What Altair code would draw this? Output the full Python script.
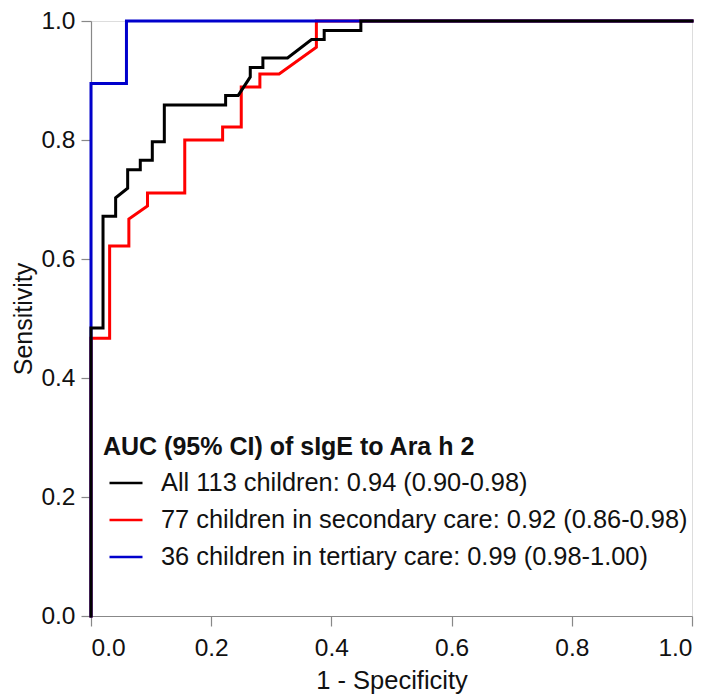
import altair as alt
import pandas as pd

# Series names (legend order)
series_names = [
    "All 113 children: 0.94 (0.90-0.98)",
    "77 children in secondary care: 0.92 (0.86-0.98)",
    "36 children in tertiary care: 0.99 (0.98-1.00)",
]
series_colors = ["#000000", "#ff0000", "#0000cc"]

# All 113 children (black)
all_fpr = [0, 0, 0.020, 0.020, 0.041, 0.041, 0.061, 0.061, 0.082, 0.082, 0.102, 0.102,
           0.122, 0.122, 0.224, 0.224, 0.245, 0.265, 0.265, 0.286, 0.286, 0.327, 0.367,
           0.388, 0.388, 0.449, 0.449, 1.0]
all_tpr = [0, 0.484, 0.484, 0.672, 0.672, 0.703, 0.719, 0.750, 0.750, 0.766, 0.766, 0.797,
           0.797, 0.859, 0.859, 0.875, 0.875, 0.906, 0.922, 0.922, 0.938, 0.938, 0.969,
           0.969, 0.984, 0.984, 1.0, 1.0]

# 77 children in secondary care (red)
sec_fpr = [0, 0, 0.031, 0.031, 0.063, 0.063, 0.094, 0.094, 0.156, 0.156, 0.219, 0.219,
           0.250, 0.250, 0.281, 0.281, 0.313, 0.375, 0.375, 1.0]
sec_tpr = [0, 0.467, 0.467, 0.622, 0.622, 0.667, 0.689, 0.711, 0.711, 0.800, 0.800, 0.822,
           0.822, 0.889, 0.889, 0.911, 0.911, 0.956, 1.0, 1.0]

# 36 children in tertiary care (blue)
ter_fpr = [0, 0, 0.059, 0.059, 1.0]
ter_tpr = [0, 0.895, 0.895, 1.0, 1.0]

x_ticks = [0.0, 0.2, 0.4, 0.6, 0.8, 1.0]
y_ticks = [0.0, 0.2, 0.4, 0.6, 0.8, 1.0]


def frame(name, fpr, tpr):
    return pd.DataFrame({"series": name, "fpr": fpr, "tpr": tpr, "i": list(range(len(fpr)))})


df_all = frame(series_names[0], all_fpr, all_tpr)
df_sec = frame(series_names[1], sec_fpr, sec_tpr)
df_ter = frame(series_names[2], ter_fpr, ter_tpr)

FONT = "Liberation Sans"

x_enc = alt.X("fpr:Q", scale=alt.Scale(domain=[0, 1], nice=False),
              axis=alt.Axis(title="1 - Specificity", values=x_ticks, format=".1f",
                            grid=False, tickSize=10, labelPadding=10, titlePadding=9,
                            domainColor="#888888", tickColor="#888888", tickWidth=1.2,
                            domainWidth=1.2, labelFontSize=24.5, titleFontSize=25.5,
                            labelColor="#111111", titleColor="#111111",
                            titleFontWeight="normal", labelFont=FONT, titleFont=FONT))
y_enc = alt.Y("tpr:Q", scale=alt.Scale(domain=[0, 1], nice=False),
              axis=alt.Axis(title="Sensitivity", values=y_ticks, format=".1f",
                            grid=False, tickSize=10, labelPadding=6, titlePadding=4,
                            domainColor="#888888", tickColor="#888888", tickWidth=1.2,
                            domainWidth=1.2, labelFontSize=24.5, titleFontSize=25,
                            labelColor="#111111", titleColor="#111111",
                            titleFontWeight="normal", labelFont=FONT, titleFont=FONT))

color_enc = alt.Color(
    "series:N",
    scale=alt.Scale(domain=series_names, range=series_colors),
    legend=alt.Legend(
        orient="none", legendX=12, legendY=414, padding=0,
        title="AUC (95% CI) of sIgE to Ara h 2",
        titleFontSize=25, titleFontWeight="bold", titleFont=FONT, titleColor="#111111",
        titleLimit=700, titlePadding=5,
        labelFontSize=25.4, labelFont=FONT, labelColor="#111111", labelLimit=700,
        symbolType="stroke", symbolSize=1089, symbolStrokeWidth=2.7,
        symbolOffset=5, labelOffset=17, rowPadding=5,
    ),
)


def layer(df):
    return alt.Chart(df).mark_line(strokeWidth=3, strokeJoin="miter", strokeCap="square").encode(
        x=x_enc, y=y_enc, color=color_enc, order=alt.Order("i:Q"),
    )


chart = alt.layer(layer(df_sec), layer(df_ter), layer(df_all)).properties(
    width=601, height=595,
    autosize=alt.AutoSizeParams(type="none"),
    padding={"left": 83, "top": 13, "right": 5, "bottom": 78},
).configure_view(stroke=None).configure(font=FONT)

chart.save("out.html", embed_options={"renderer": "svg", "actions": False})
